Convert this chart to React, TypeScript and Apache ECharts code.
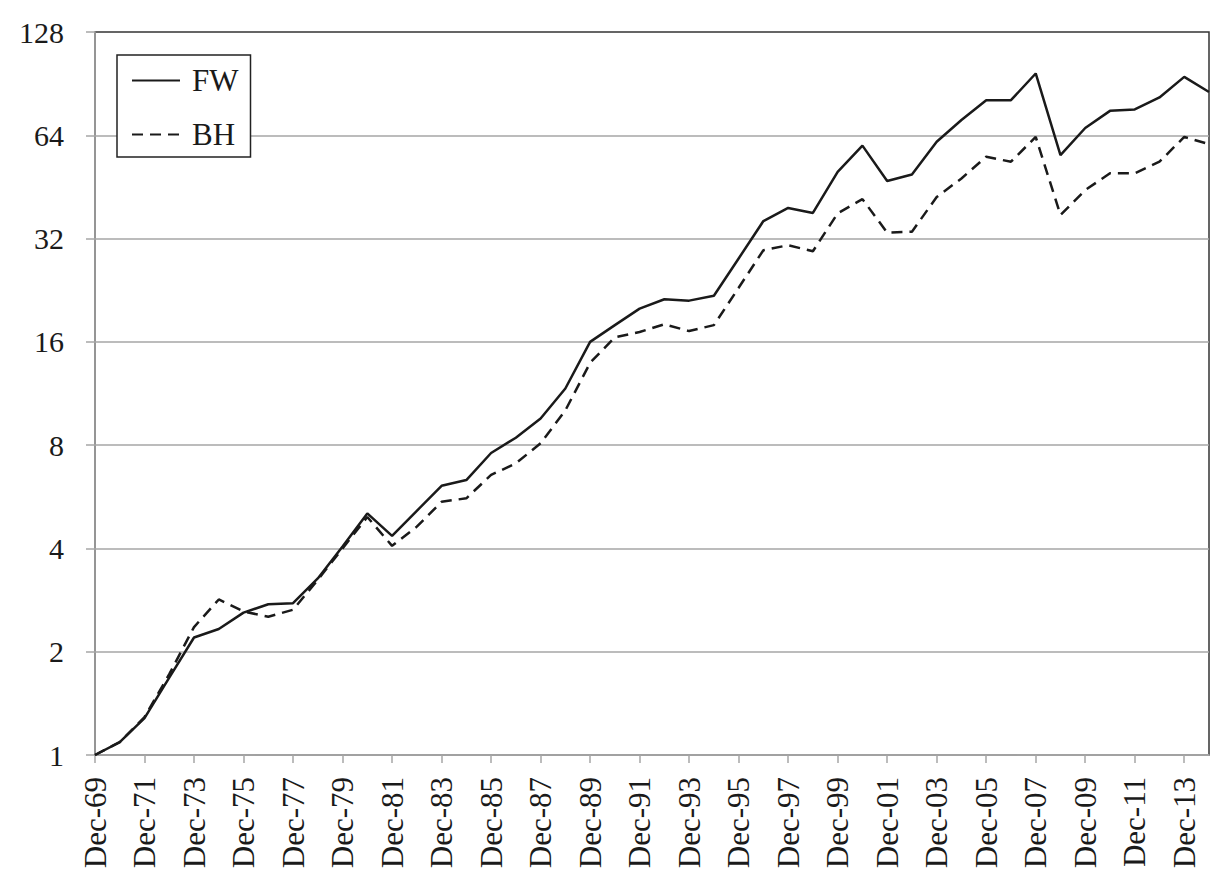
import React, { useEffect, useRef } from "react";
import * as echarts from "echarts";

const categories = [
  "Dec-69", "Dec-70", "Dec-71", "Dec-72", "Dec-73", "Dec-74", "Dec-75", "Dec-76", "Dec-77", "Dec-78",
  "Dec-79", "Dec-80", "Dec-81", "Dec-82", "Dec-83", "Dec-84", "Dec-85", "Dec-86", "Dec-87", "Dec-88",
  "Dec-89", "Dec-90", "Dec-91", "Dec-92", "Dec-93", "Dec-94", "Dec-95", "Dec-96", "Dec-97", "Dec-98",
  "Dec-99", "Dec-00", "Dec-01", "Dec-02", "Dec-03", "Dec-04", "Dec-05", "Dec-06", "Dec-07", "Dec-08",
  "Dec-09", "Dec-10", "Dec-11", "Dec-12", "Dec-13", "Dec-14",
];

const fwValues = [
  1, 1.09, 1.28, 1.68, 2.2, 2.33, 2.6, 2.75, 2.77, 3.27,
  4.05, 5.06, 4.35, 5.15, 6.09, 6.33, 7.59, 8.41, 9.57, 11.7,
  16.0, 17.9, 20.0, 21.3, 21.1, 21.8, 28.0, 36.0, 39.3, 38.0,
  50.1, 59.7, 47.1, 49.2, 61.3, 70.9, 81.0, 81.0, 96.9, 56.0,
  67.2, 75.4, 76.1, 82.5, 94.7, 85.6,
];

const bhValues = [
  1, 1.09, 1.29, 1.72, 2.36, 2.84, 2.62, 2.53, 2.65, 3.24,
  4.0, 4.94, 4.07, 4.63, 5.47, 5.6, 6.55, 7.08, 8.1, 10.1,
  13.9, 16.5, 17.1, 18.0, 17.2, 17.9, 23.0, 29.6, 30.6, 29.4,
  37.9, 41.7, 33.3, 33.5, 42.3, 47.9, 55.4, 53.6, 63.3, 37.5,
  44.3, 49.6, 49.6, 53.6, 63.3, 60.3,
];

const seriesNames = ["FW", "BH"];

const FONT = "Liberation Serif";
const INK = "#1a1a1a";
const GRID_GRAY = "#a6a6a6";

export default function App() {
  const ref = useRef<HTMLDivElement>(null);

  useEffect(() => {
    document.body.style.margin = "0";
    const chart = echarts.init(ref.current!, null, { renderer: "svg" });
    chart.setOption({
      animation: false,
      backgroundColor: "#ffffff",
      grid: {
        left: 95,
        right: 21,
        top: 32,
        bottom: 136,
        containLabel: false,
        show: true,
        borderColor: "#333333",
        borderWidth: 1.5,
        backgroundColor: "transparent",
      },
      legend: {
        orient: "vertical",
        left: 117,
        top: 55,
        data: seriesNames,
        backgroundColor: "#ffffff",
        borderColor: "#222222",
        borderWidth: 1.5,
        borderRadius: 0,
        padding: [10, 12, 7, 14],
        itemWidth: 48,
        itemHeight: 1,
        itemGap: 23,
        selectedMode: false,
        itemStyle: { opacity: 0 },
        textStyle: {
          fontFamily: FONT,
          fontSize: 31,
          lineHeight: 30,
          color: INK,
          padding: [0, 0, 0, 7],
        },
      },
      xAxis: {
        type: "category",
        data: categories,
        boundaryGap: false,
        axisLine: { show: true, lineStyle: { color: GRID_GRAY, width: 1.5 } },
        axisTick: {
          show: true,
          interval: 1,
          length: 8,
          lineStyle: { color: GRID_GRAY, width: 1.5 },
        },
        axisLabel: {
          interval: 1,
          rotate: 90,
          margin: 22,
          fontFamily: FONT,
          fontSize: 31,
          color: INK,
        },
        splitLine: { show: false },
      },
      yAxis: {
        type: "log",
        logBase: 2,
        min: 1,
        max: 128,
        splitNumber: 7,
        axisLine: { show: true, lineStyle: { color: GRID_GRAY, width: 1.5 } },
        axisTick: { show: true, length: 9, lineStyle: { color: GRID_GRAY, width: 1.5 } },
        axisLabel: {
          margin: 31,
          fontFamily: FONT,
          fontSize: 30,
          color: INK,
        },
        splitLine: {
          show: true,
          showMaxLine: false,
          lineStyle: { color: GRID_GRAY, width: 1.5 },
        },
      },
      series: [
        {
          name: seriesNames[0],
          type: "line",
          data: fwValues,
          symbol: "none",
          lineStyle: { color: INK, width: 2.5, type: "solid" },
          itemStyle: { color: INK },
        },
        {
          name: seriesNames[1],
          type: "line",
          data: bhValues,
          symbol: "none",
          lineStyle: { color: INK, width: 2.5, type: [11, 7] },
          itemStyle: { color: INK },
        },
      ],
    });
    return () => chart.dispose();
  }, []);

  return (
    <div
      ref={ref}
      style={{ position: "fixed", left: 0, top: 0, width: 1230, height: 891 }}
    />
  );
}
